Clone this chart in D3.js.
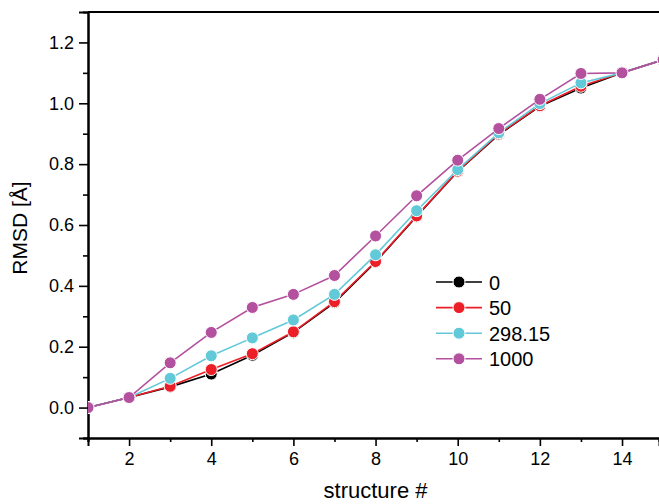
<!DOCTYPE html>
<html>
<head>
<meta charset="utf-8">
<script src="https://cdn.jsdelivr.net/npm/d3@7"></script>
<style>
  html, body { margin: 0; padding: 0; background: #fff; }
  svg { display: block; font-family: "Liberation Sans", Arial, sans-serif; }
</style>
</head>
<body>
<svg id="chart" width="659" height="504"></svg>
<script>
// Structure index along the x axis
const structures = [1, 2, 3, 4, 5, 6, 7, 8, 9, 10, 11, 12, 13, 14, 15];

// RMSD per structure for each temperature setting
const rmsd0    = [0, 0.033, 0.068, 0.110, 0.172, 0.247, 0.345, 0.478, 0.628, 0.776, 0.897, 0.990, 1.050, 1.100, 1.143];
const rmsd50   = [0, 0.033, 0.070, 0.125, 0.177, 0.249, 0.348, 0.480, 0.630, 0.777, 0.899, 0.992, 1.056, 1.100, 1.143];
const rmsd298  = [0, 0.033, 0.096, 0.170, 0.229, 0.288, 0.372, 0.502, 0.647, 0.782, 0.903, 0.999, 1.067, 1.100, 1.143];
const rmsd1000 = [0, 0.033, 0.147, 0.247, 0.329, 0.372, 0.434, 0.564, 0.696, 0.813, 0.917, 1.013, 1.098, 1.100, 1.143];

const seriesNames  = ["0", "50", "298.15", "1000"];
const seriesColors = ["#000000", "#ec1e27", "#62c9d9", "#b3519f"];
const seriesValues = [rmsd0, rmsd50, rmsd298, rmsd1000];

const xTicks = [2, 4, 6, 8, 10, 12, 14];
const xMinorTicks = [1, 3, 5, 7, 9, 11, 13];
const yTicks = [0.0, 0.2, 0.4, 0.6, 0.8, 1.0, 1.2];
const yMinorTicks = [-0.1, 0.1, 0.3, 0.5, 0.7, 0.9, 1.1];

const svg = d3.select("#chart");
const margin = { left: 88, top: 12, bottom: 438, right: 659 };

const x = d3.scaleLinear().domain([1, 14.9]).range([margin.left, margin.right]);
const y = d3.scaleLinear().domain([-0.1, 1.3]).range([margin.bottom, margin.top]);

// clip region for the plotting area
svg.append("defs").append("clipPath").attr("id", "plotClip")
  .append("rect")
  .attr("x", margin.left).attr("y", margin.top - 10)
  .attr("width", margin.right - margin.left).attr("height", margin.bottom - margin.top + 10);

// Axes
const yAxis = d3.axisLeft(y).tickValues(yTicks).tickFormat(d3.format(".1f")).tickSize(9).tickPadding(5);
const yMinor = d3.axisLeft(y).tickValues(yMinorTicks).tickFormat("").tickSize(5);
const xAxis = d3.axisBottom(x).tickValues(xTicks).tickFormat(d3.format("d")).tickSize(8).tickPadding(6);
const xMinor = d3.axisBottom(x).tickValues(xMinorTicks).tickFormat("").tickSize(4);

function styleAxis(g) {
  g.select(".domain").attr("stroke", "#000").attr("stroke-width", 2);
  g.selectAll(".tick line").attr("stroke", "#000").attr("stroke-width", 1.6);
  g.selectAll(".tick text").attr("fill", "#000").style("font-size", "18px")
    .style("font-family", "'Liberation Sans', Arial, sans-serif");
}

svg.append("g").attr("transform", `translate(${margin.left},0)`).call(yMinor).call(styleAxis);
svg.append("g").attr("transform", `translate(${margin.left},0)`).call(yAxis).call(styleAxis);
svg.append("g").attr("transform", `translate(0,${margin.bottom})`).call(xMinor).call(styleAxis);
svg.append("g").attr("transform", `translate(0,${margin.bottom})`).call(xAxis).call(styleAxis);

// top frame line
svg.append("line")
  .attr("x1", margin.left).attr("x2", margin.right)
  .attr("y1", y(1.3)).attr("y2", y(1.3))
  .attr("stroke", "#000").attr("stroke-width", 2);

// Series
const plot = svg.append("g").attr("clip-path", "url(#plotClip)");
const line = d3.line().x((d, i) => x(structures[i])).y(d => y(d));

seriesValues.forEach((vals, s) => {
  const g = plot.append("g");
  g.append("path")
    .datum(vals)
    .attr("d", line)
    .attr("fill", "none")
    .attr("stroke", seriesColors[s])
    .attr("stroke-width", 1.6);
  g.selectAll("circle")
    .data(vals)
    .join("circle")
    .attr("cx", (d, i) => x(structures[i]))
    .attr("cy", d => y(d))
    .attr("r", 6)
    .attr("fill", seriesColors[s])
    .attr("stroke", "#fff")
    .attr("stroke-width", 1);
});

// Legend
const legend = svg.append("g").attr("transform", "translate(436,282)");
seriesNames.forEach((name, s) => {
  const row = legend.append("g").attr("transform", `translate(0,${s * 25.6})`);
  row.append("line").attr("x1", 0).attr("x2", 46).attr("y1", 0).attr("y2", 0)
    .attr("stroke", seriesColors[s]).attr("stroke-width", 1.6);
  row.append("circle").attr("cx", 23).attr("cy", 0).attr("r", 6)
    .attr("fill", seriesColors[s]).attr("stroke", "#fff").attr("stroke-width", 1);
  row.append("text").attr("x", 53).attr("y", 7.5)
    .style("font-size", "20px").attr("fill", "#000").text(name);
});

// Axis titles
svg.append("text")
  .attr("x", (margin.left + margin.right) / 2 + 2)
  .attr("y", 498)
  .attr("text-anchor", "middle")
  .style("font-size", "22px")
  .text("structure #");

svg.append("text")
  .attr("transform", "translate(27,228) rotate(-90)")
  .attr("text-anchor", "middle")
  .style("font-size", "21px")
  .text("RMSD [Å]");
</script>
</body>
</html>
